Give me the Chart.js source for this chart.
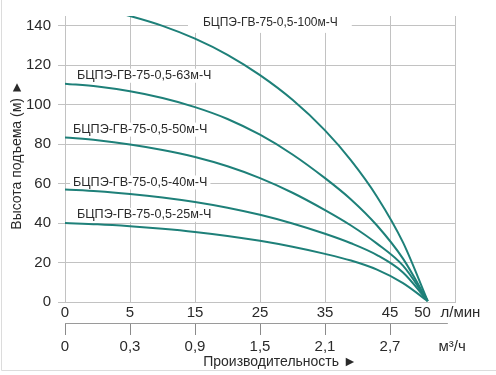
<!DOCTYPE html>
<html>
<head>
<meta charset="utf-8">
<script src="https://cdn.jsdelivr.net/npm/chart.js@4/dist/chart.umd.min.js"></script>
<style>
html,body{margin:0;padding:0;background:#fff;}
#wrap{position:relative;width:496px;height:375px;}
canvas{display:block;}
</style>
</head>
<body>
<div id="wrap"><canvas id="c" width="496" height="375"></canvas></div>
<script>
// Positions along the flow axis (grid units; the original axis is not linear in л/мин)
const flowPos = [0, 0.5, 1, 1.5, 2, 2.5, 3, 3.5, 4, 4.4, 4.8, 5.2, 5.58];

// Head (м) for each pump model
const head25  = [40.0, 39.4, 38.4, 37.1, 35.5, 33.5, 31.0, 28.0, 24.4, 21.0, 16.4, 9.6, 0.5];
const head40  = [57.1, 56.2, 54.8, 53.0, 50.7, 47.8, 44.2, 39.8, 34.6, 29.8, 23.8, 15.0, 0.5];
const head50  = [83.4, 82.0, 79.9, 77.1, 73.5, 68.8, 62.8, 55.4, 46.6, 38.8, 29.6, 18.4, 0.6];
const head63  = [110.7, 109.2, 106.8, 103.4, 98.8, 92.8, 84.8, 74.8, 62.8, 52.0, 38.8, 22.0, 0.5];
const head100 = [152.0, 149.0, 145.0, 140.0, 133.5, 125.3, 115.0, 102.5, 87.0, 71.8, 53.4, 30.2, 0.5];

const seriesNames = [
  'БЦПЭ-ГВ-75-0,5-25м-Ч',
  'БЦПЭ-ГВ-75-0,5-40м-Ч',
  'БЦПЭ-ГВ-75-0,5-50м-Ч',
  'БЦПЭ-ГВ-75-0,5-63м-Ч',
  'БЦПЭ-ГВ-75-0,5-100м-Ч'
];

// Tick labels
const flowTickPos    = [0, 1, 2, 3, 4, 5, 5.5, 6];
const flowTickLabels = ['0', '5', '15', '25', '35', '45', '50', ''];
const m3TickPos      = [0, 1, 2, 3, 4, 5];
const m3TickLabels   = ['0', '0,3', '0,9', '1,5', '2,1', '2,7'];
const headTicks      = [0, 10, 20, 30, 40, 50, 60, 70, 80, 90, 100, 110, 120, 130, 140];

// Curve label anchors (axis units): [x, y]
const labelAnchors = [[0.185, 44.2], [0.123, 60.6], [0.123, 87.4], [0.185, 114.7], [2.123, 141.5]];

const GRID = '#c2c2c2';
const CURVE = '#1e8079';
const TXT = '#2a2a2a';
const FONT = '"Liberation Sans", Arial, sans-serif';

const allHeads = [head25, head40, head50, head63, head100];
const datasets = allHeads.map((h, i) => ({
  label: seriesNames[i],
  data: flowPos.map((x, j) => ({x: x, y: h[j]})),
  borderColor: CURVE,
  borderWidth: 2,
  pointRadius: 0,
  fill: false,
  cubicInterpolationMode: 'monotone'
}));

const decor = {
  id: 'decor',
  beforeDraw(chart) {
    const ctx = chart.ctx;
    ctx.save();
    ctx.strokeStyle = '#dcdcdc';
    ctx.lineWidth = 1;
    ctx.beginPath();
    ctx.moveTo(1.5, 0); ctx.lineTo(1.5, 370.5); ctx.lineTo(496, 370.5);
    ctx.stroke();
    ctx.restore();
  },
  beforeDatasetsDraw(chart) {
    const ctx = chart.ctx;
    const xs = chart.scales.x, ys = chart.scales.y;
    ctx.save();
    ctx.textBaseline = 'middle';
    ctx.textAlign = 'left';
    seriesNames.forEach((name, i) => {
      ctx.font = (i === 4 ? '12px ' : '12.6px ') + FONT;
      const px = xs.getPixelForValue(labelAnchors[i][0]);
      const py = ys.getPixelForValue(labelAnchors[i][1]);
      const w = ctx.measureText(name).width;
      ctx.fillStyle = '#fff';
      if (i === 4) {
        ctx.fillRect(px - 15, chart.chartArea.top, w + 29, py - chart.chartArea.top + 10);
      } else {
        ctx.fillRect(px - 3, py - 7, w + 6, 14);
      }
      ctx.fillStyle = TXT;
      ctx.fillText(name, px, py);
    });
    ctx.restore();
  },
  afterDraw(chart) {
    const ctx = chart.ctx;
    const xs = chart.scales.x, x2 = chart.scales.x2;
    ctx.save();
    // secondary axis line
    ctx.strokeStyle = '#9a9a9a';
    ctx.lineWidth = 1;
    ctx.beginPath();
    ctx.moveTo(x2.left, Math.round(x2.top) + 0.5);
    ctx.lineTo(xs.getPixelForValue(5.89), Math.round(x2.top) + 0.5);
    ctx.stroke();

    ctx.fillStyle = TXT;
    ctx.textBaseline = 'middle';
    ctx.font = '15px ' + FONT;
    ctx.textAlign = 'left';
    ctx.fillText('л/мин', xs.getPixelForValue(5.5) + 18, 313);
    ctx.fillText('м³/ч', xs.getPixelForValue(5.5) + 16, 347);

    ctx.font = '14px ' + FONT;
    ctx.textAlign = 'center';
    ctx.fillText('Производительность ►', 280, 362);

    ctx.translate(17, 155);
    ctx.rotate(-Math.PI / 2);
    ctx.fillText('Высота подъема (м) ►', 0, 0);
    ctx.restore();
  }
};

new Chart(document.getElementById('c'), {
  type: 'line',
  data: { datasets: datasets },
  plugins: [decor],
  options: {
    responsive: false,
    animation: false,
    devicePixelRatio: 1,
    layout: { padding: { left: 0, right: 41, top: 10, bottom: 0 } },
    plugins: { legend: { display: false }, tooltip: { enabled: false } },
    scales: {
      x: {
        type: 'linear',
        position: 'bottom',
        min: 0, max: 6,
        afterBuildTicks: s => { s.ticks = flowTickPos.map(v => ({value: v})); },
        afterFit: s => { s.height = 21; },
        grid: {
          color: c => (c.tick && c.tick.value === 5.5) ? 'rgba(0,0,0,0)' : GRID,
          drawTicks: false,
          lineWidth: 1
        },
        border: { display: true, color: GRID },
        ticks: {
          autoSkip: false, maxRotation: 0, padding: 2,
          color: TXT, font: { family: FONT, size: 15 },
          callback: (v, i) => flowTickLabels[i]
        }
      },
      x2: {
        type: 'linear',
        position: 'bottom',
        min: 0, max: 6,
        afterBuildTicks: s => { s.ticks = m3TickPos.map(v => ({value: v})); },
        afterFit: s => { s.height = 52; },
        grid: { drawOnChartArea: false, drawTicks: true, tickLength: 12, color: '#8a8a8a' },
        border: { display: false },
        ticks: {
          autoSkip: false, maxRotation: 0, padding: 3,
          color: TXT, font: { family: FONT, size: 15 },
          callback: (v, i) => m3TickLabels[i]
        }
      },
      y: {
        type: 'linear',
        min: 0, max: 145,
        afterBuildTicks: s => { s.ticks = headTicks.map(v => ({value: v})); },
        afterFit: s => { s.width = 65; },
        grid: {
          color: c => (c.tick && c.tick.value % 20 === 0) ? GRID : 'rgba(0,0,0,0)',
          tickColor: GRID,
          tickLength: 7,
          lineWidth: 1
        },
        border: { display: true, color: GRID },
        ticks: {
          padding: 7,
          color: TXT, font: { family: FONT, size: 15 },
          callback: v => (v % 20 === 0 ? String(v) : '')
        }
      }
    }
  }
});
</script>
</body>
</html>
